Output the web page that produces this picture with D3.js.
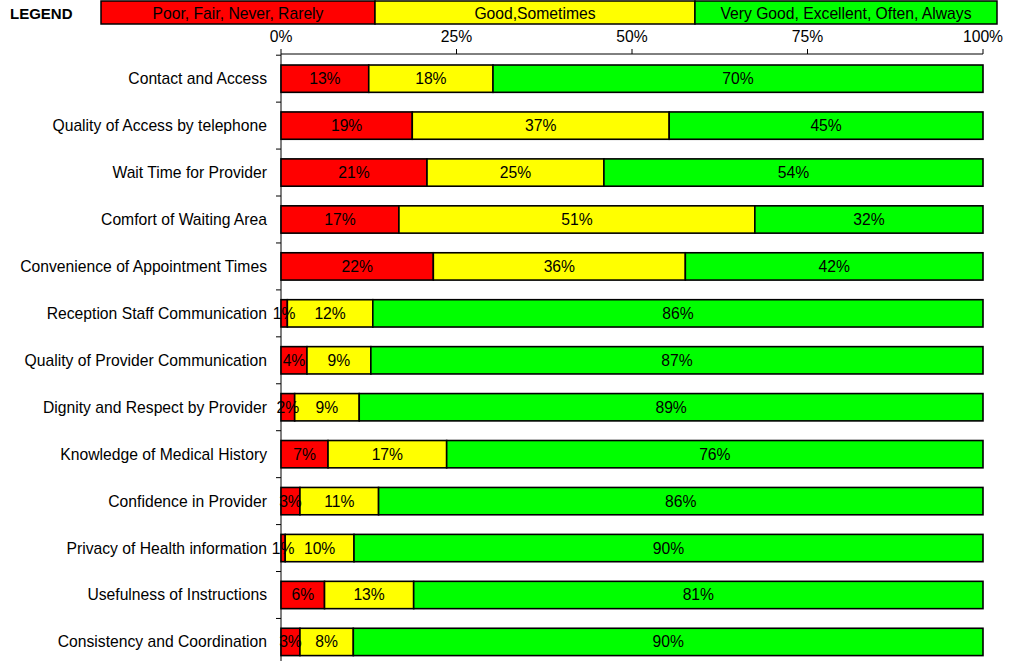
<!DOCTYPE html>
<html>
<head>
<meta charset="utf-8">
<script src="https://cdn.jsdelivr.net/npm/d3@7"></script>
<style>
  html, body { margin: 0; padding: 0; background: #fff; overflow: hidden; }
  svg { display: block; font-family: "Liberation Sans", Arial, sans-serif; }
</style>
</head>
<body>
<svg id="chart" width="1016" height="661"></svg>
<script>
const categories = [
  "Contact and Access",
  "Quality of Access by telephone",
  "Wait Time for Provider",
  "Comfort of Waiting Area",
  "Convenience of Appointment Times",
  "Reception Staff Communication",
  "Quality of Provider Communication",
  "Dignity and Respect by Provider",
  "Knowledge of Medical History",
  "Confidence in Provider",
  "Privacy of Health information",
  "Usefulness of Instructions",
  "Consistency and Coordination"
];
const seriesNames = ["Poor, Fair, Never, Rarely", "Good,Sometimes", "Very Good, Excellent, Often, Always"];
const poor = [12.5, 18.7, 20.8, 16.8, 21.7, 0.9, 3.7, 1.95, 6.7, 2.7, 0.6, 6.2, 2.7];
const good = [17.7, 36.6, 25.2, 50.7, 35.9, 12.1, 9.1, 9.2, 16.9, 11.2, 9.8, 12.7, 7.6];
const great = [69.8, 44.7, 54.0, 32.5, 42.4, 86.4, 87.2, 88.9, 76.4, 86.1, 89.6, 81.1, 89.7];
const poorLabels = ["13%", "19%", "21%", "17%", "22%", "1%", "4%", "2%", "7%", "3%", "1%", "6%", "3%"];
const goodLabels = ["18%", "37%", "25%", "51%", "36%", "12%", "9%", "9%", "17%", "11%", "10%", "13%", "8%"];
const greatLabels = ["70%", "45%", "54%", "32%", "42%", "86%", "87%", "89%", "76%", "86%", "90%", "81%", "90%"];
const tickValues = [0, 0.25, 0.5, 0.75, 1];
const colors = ["#ff0000", "#ffff00", "#00ff00"];

const svg = d3.select("#chart");
const FONT = "15.7px";

const rows = categories.map((c, i) => ({ cat: c, s0: poor[i], s1: good[i], s2: great[i],
  l0: poorLabels[i], l1: goodLabels[i], l2: greatLabels[i] }));
const keys = ["s0", "s1", "s2"];
const stacked = d3.stack().keys(keys).offset(d3.stackOffsetExpand)(rows);

const x = d3.scaleLinear().domain([0, 1]).range([281, 983]);
const y = d3.scaleBand().domain(categories).range([55.2, 665.4]).paddingInner(0.418).paddingOuter(0.209);

// Legend
svg.append("text").attr("x", 10).attr("y", 14).attr("dy", "0.35em")
  .attr("font-size", "15px").attr("font-weight", "bold").text("LEGEND");
const legendX = d3.scaleLinear().domain([0, 1]).range([101, 997]);
const legendBreaks = [0, 0.3058, 0.6629, 1];
seriesNames.forEach((name, i) => {
  const x0 = legendX(legendBreaks[i]), x1 = legendX(legendBreaks[i + 1]);
  svg.append("rect").attr("x", x0).attr("y", 1).attr("width", x1 - x0).attr("height", 23)
    .attr("fill", colors[i]).attr("stroke", "#000").attr("stroke-width", 1.5);
  svg.append("text").attr("x", (x0 + x1) / 2).attr("y", 13.5).attr("dy", "0.35em")
    .attr("text-anchor", "middle").attr("font-size", FONT).text(name);
});

// Top axis
const axisY = 54;
svg.append("line").attr("x1", x(0)).attr("x2", x(1)).attr("y1", axisY).attr("y2", axisY)
  .attr("stroke", "#000").attr("stroke-width", 1);
svg.selectAll(".xtick").data(tickValues).join("line")
  .attr("x1", d => x(d)).attr("x2", d => x(d)).attr("y1", axisY - 5).attr("y2", axisY)
  .attr("stroke", "#000");
svg.selectAll(".xlab").data(tickValues).join("text")
  .attr("x", d => x(d)).attr("y", 37).attr("dy", "0.35em").attr("text-anchor", "middle")
  .attr("font-size", FONT).text(d => d3.format(".0%")(d));

// Left axis
svg.append("line").attr("x1", x(0)).attr("x2", x(0)).attr("y1", axisY).attr("y2", 661)
  .attr("stroke", "#000").attr("stroke-width", 1);
const step = y.step();
d3.range(categories.length + 1).forEach(i => {
  const yy = y.range()[0] + step * i;
  svg.append("line").attr("x1", x(0) - 5).attr("x2", x(0)).attr("y1", yy).attr("y2", yy).attr("stroke", "#000");
});
svg.selectAll(".ylab").data(categories).join("text")
  .attr("x", 267).attr("y", d => y(d) + y.bandwidth() / 2).attr("dy", "0.35em")
  .attr("text-anchor", "end").attr("font-size", FONT).text(d => d);

// Bars
stacked.forEach((layer, li) => {
  const g = svg.append("g");
  g.selectAll("rect").data(layer).join("rect")
    .attr("x", d => x(d[0])).attr("width", d => x(d[1]) - x(d[0]))
    .attr("y", d => y(d.data.cat)).attr("height", y.bandwidth())
    .attr("fill", colors[li]).attr("stroke", "#000").attr("stroke-width", 1.6);
});
stacked.forEach((layer, li) => {
  const g = svg.append("g");
  g.selectAll("text").data(layer).join("text")
    .attr("x", d => (x(d[0]) + x(d[1])) / 2)
    .attr("y", d => y(d.data.cat) + y.bandwidth() / 2).attr("dy", "0.35em")
    .attr("text-anchor", "middle").attr("font-size", FONT).attr("fill", "#000")
    .text(d => d.data["l" + li]);
});
</script>
</body>
</html>
